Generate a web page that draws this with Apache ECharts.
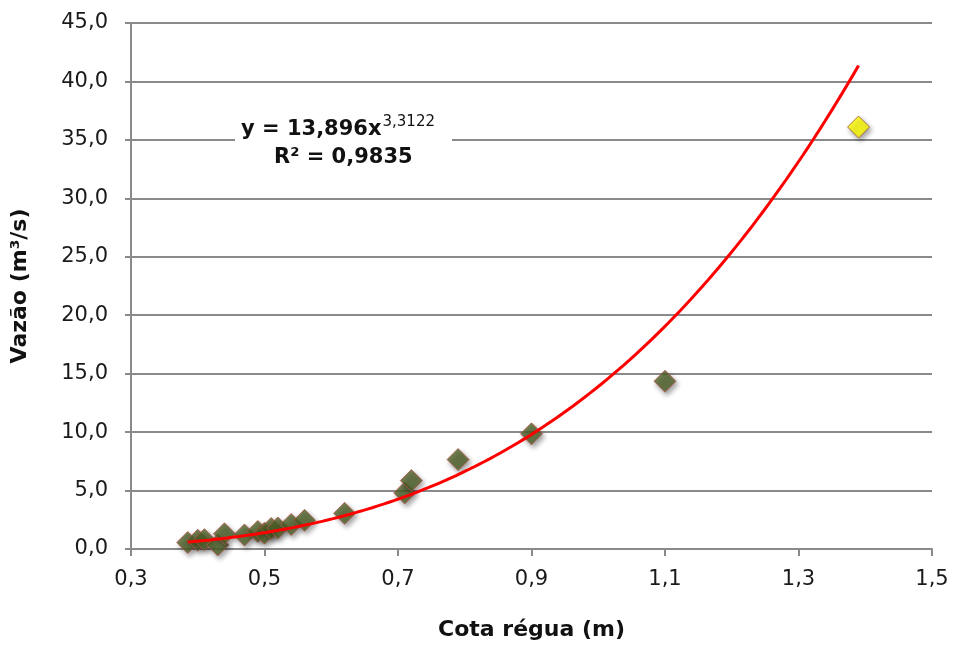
<!DOCTYPE html>
<html>
<head>
<meta charset="utf-8">
<script src="https://cdn.jsdelivr.net/npm/echarts@6/dist/echarts.min.js"></script>
<style>
  html, body { margin: 0; padding: 0; background: #fff; }
  #chart { width: 954px; height: 646px; }
</style>
</head>
<body>
<div id="chart"></div>
<script>
// Measured stage (m) and discharge (m³/s)
const cotaRegua = [0.385, 0.40, 0.41, 0.43, 0.44, 0.47, 0.49, 0.50, 0.51, 0.52, 0.54, 0.56, 0.62, 0.71, 0.72, 0.79, 0.90, 1.10];
const vazao     = [0.55, 0.75, 0.80, 0.35, 1.30, 1.20, 1.50, 1.35, 1.75, 1.80, 2.10, 2.45, 3.05, 4.80, 5.85, 7.65, 9.85, 14.35];

// Highlighted measurement
const destaqueCota = [1.39];
const destaqueVazao = [36.1];

// Power trendline Q = a * h^b
const trendA = 13.896;
const trendB = 3.3122;
const trendR2 = '0,9835';
const trendFrom = 0.385;
const trendTo = 1.39;

// Axis ranges
const xMin = 0.3, xMax = 1.5, xStep = 0.2;
const yMin = 0, yMax = 45, yStep = 5;

const fmt = (v, d) => v.toFixed(d).replace('.', ',');

const pontos = cotaRegua.map((h, i) => [h, vazao[i]]);
const destaque = destaqueCota.map((h, i) => [h, destaqueVazao[i]]);

const curva = [];
const nPassos = 120;
for (let i = 0; i <= nPassos; i++) {
  const h = trendFrom + (trendTo - trendFrom) * i / nPassos;
  curva.push([h, trendA * Math.pow(h, trendB)]);
}

const fonte = '"DejaVu Sans", Arial, sans-serif';
const cinza = '#8a8a8a';

const sombra = {
  shadowBlur: 5,
  shadowOffsetX: 2,
  shadowOffsetY: 3,
  shadowColor: 'rgba(0,0,0,0.45)'
};

const chart = echarts.init(document.getElementById('chart'), null, { renderer: 'canvas' });

chart.setOption({
  backgroundColor: '#ffffff',
  animation: false,
  grid: { left: 131, right: 22, top: 23, bottom: 95, containLabel: false },
  xAxis: {
    type: 'value',
    min: xMin, max: xMax, interval: xStep,
    name: 'Cota régua (m)',
    nameLocation: 'middle',
    nameGap: 70,
    nameTextStyle: { fontFamily: fonte, fontWeight: 'bold', fontSize: 22, color: '#111' },
    axisLine: { show: true, onZero: false, lineStyle: { color: cinza, width: 2 } },
    axisTick: { show: true, inside: false, length: 7, lineStyle: { color: cinza, width: 2 } },
    axisLabel: {
      fontFamily: fonte, fontSize: 21, color: '#1a1a1a', margin: 20,
      formatter: v => fmt(v, 1)
    },
    splitLine: { show: false }
  },
  yAxis: {
    type: 'value',
    min: yMin, max: yMax, interval: yStep,
    name: 'Vazão (m³/s)',
    nameLocation: 'middle',
    nameGap: 100,
    nameTextStyle: { fontFamily: fonte, fontWeight: 'bold', fontSize: 22, color: '#111' },
    axisLine: { show: true, lineStyle: { color: cinza, width: 2 } },
    axisTick: { show: true, inside: false, length: 6, lineStyle: { color: cinza, width: 2 } },
    axisLabel: {
      fontFamily: fonte, fontSize: 21, color: '#1a1a1a', margin: 23,
      formatter: v => fmt(v, 1)
    },
    splitLine: { show: true, lineStyle: { color: cinza, width: 2 } }
  },
  series: [
    {
      name: 'Medições',
      type: 'scatter',
      data: pontos,
      symbol: 'diamond',
      symbolSize: 22,
      z: 2,
      itemStyle: Object.assign({
        color: '#4f6228',
        borderColor: '#b5584a',
        borderWidth: 1
      }, sombra)
    },
    {
      name: 'Tendência',
      type: 'line',
      data: curva,
      showSymbol: false,
      smooth: false,
      z: 3,
      lineStyle: { color: '#ff0000', width: 3 }
    },
    {
      name: 'Destaque',
      type: 'scatter',
      data: destaque,
      symbol: 'diamond',
      symbolSize: 22,
      z: 4,
      itemStyle: Object.assign({
        color: '#ffff00',
        borderColor: '#a0522d',
        borderWidth: 1
      }, sombra)
    }
  ],
  graphic: [
    {
      type: 'rect',
      left: 235, top: 110,
      shape: { width: 217, height: 64 },
      style: { fill: '#ffffff' },
      z: 10
    },
    {
      type: 'text',
      left: 241, top: 115,
      z: 11,
      style: {
        text: '{b|y = ' + fmt(trendA, 3) + 'x}{s|' + fmt(trendB, 4) + '}',
        rich: {
          b: { fontFamily: fonte, fontWeight: 'bold', fontSize: 21, fill: '#111', verticalAlign: 'bottom' },
          s: { fontFamily: fonte, fontSize: 15, fill: '#111', verticalAlign: 'top', padding: [0, 0, 10, 1] }
        }
      }
    },
    {
      type: 'text',
      left: 274, top: 147,
      z: 11,
      style: {
        text: 'R² = ' + trendR2,
        fontFamily: fonte, fontWeight: 'bold', fontSize: 21, fill: '#111'
      }
    }
  ]
});
</script>
</body>
</html>
